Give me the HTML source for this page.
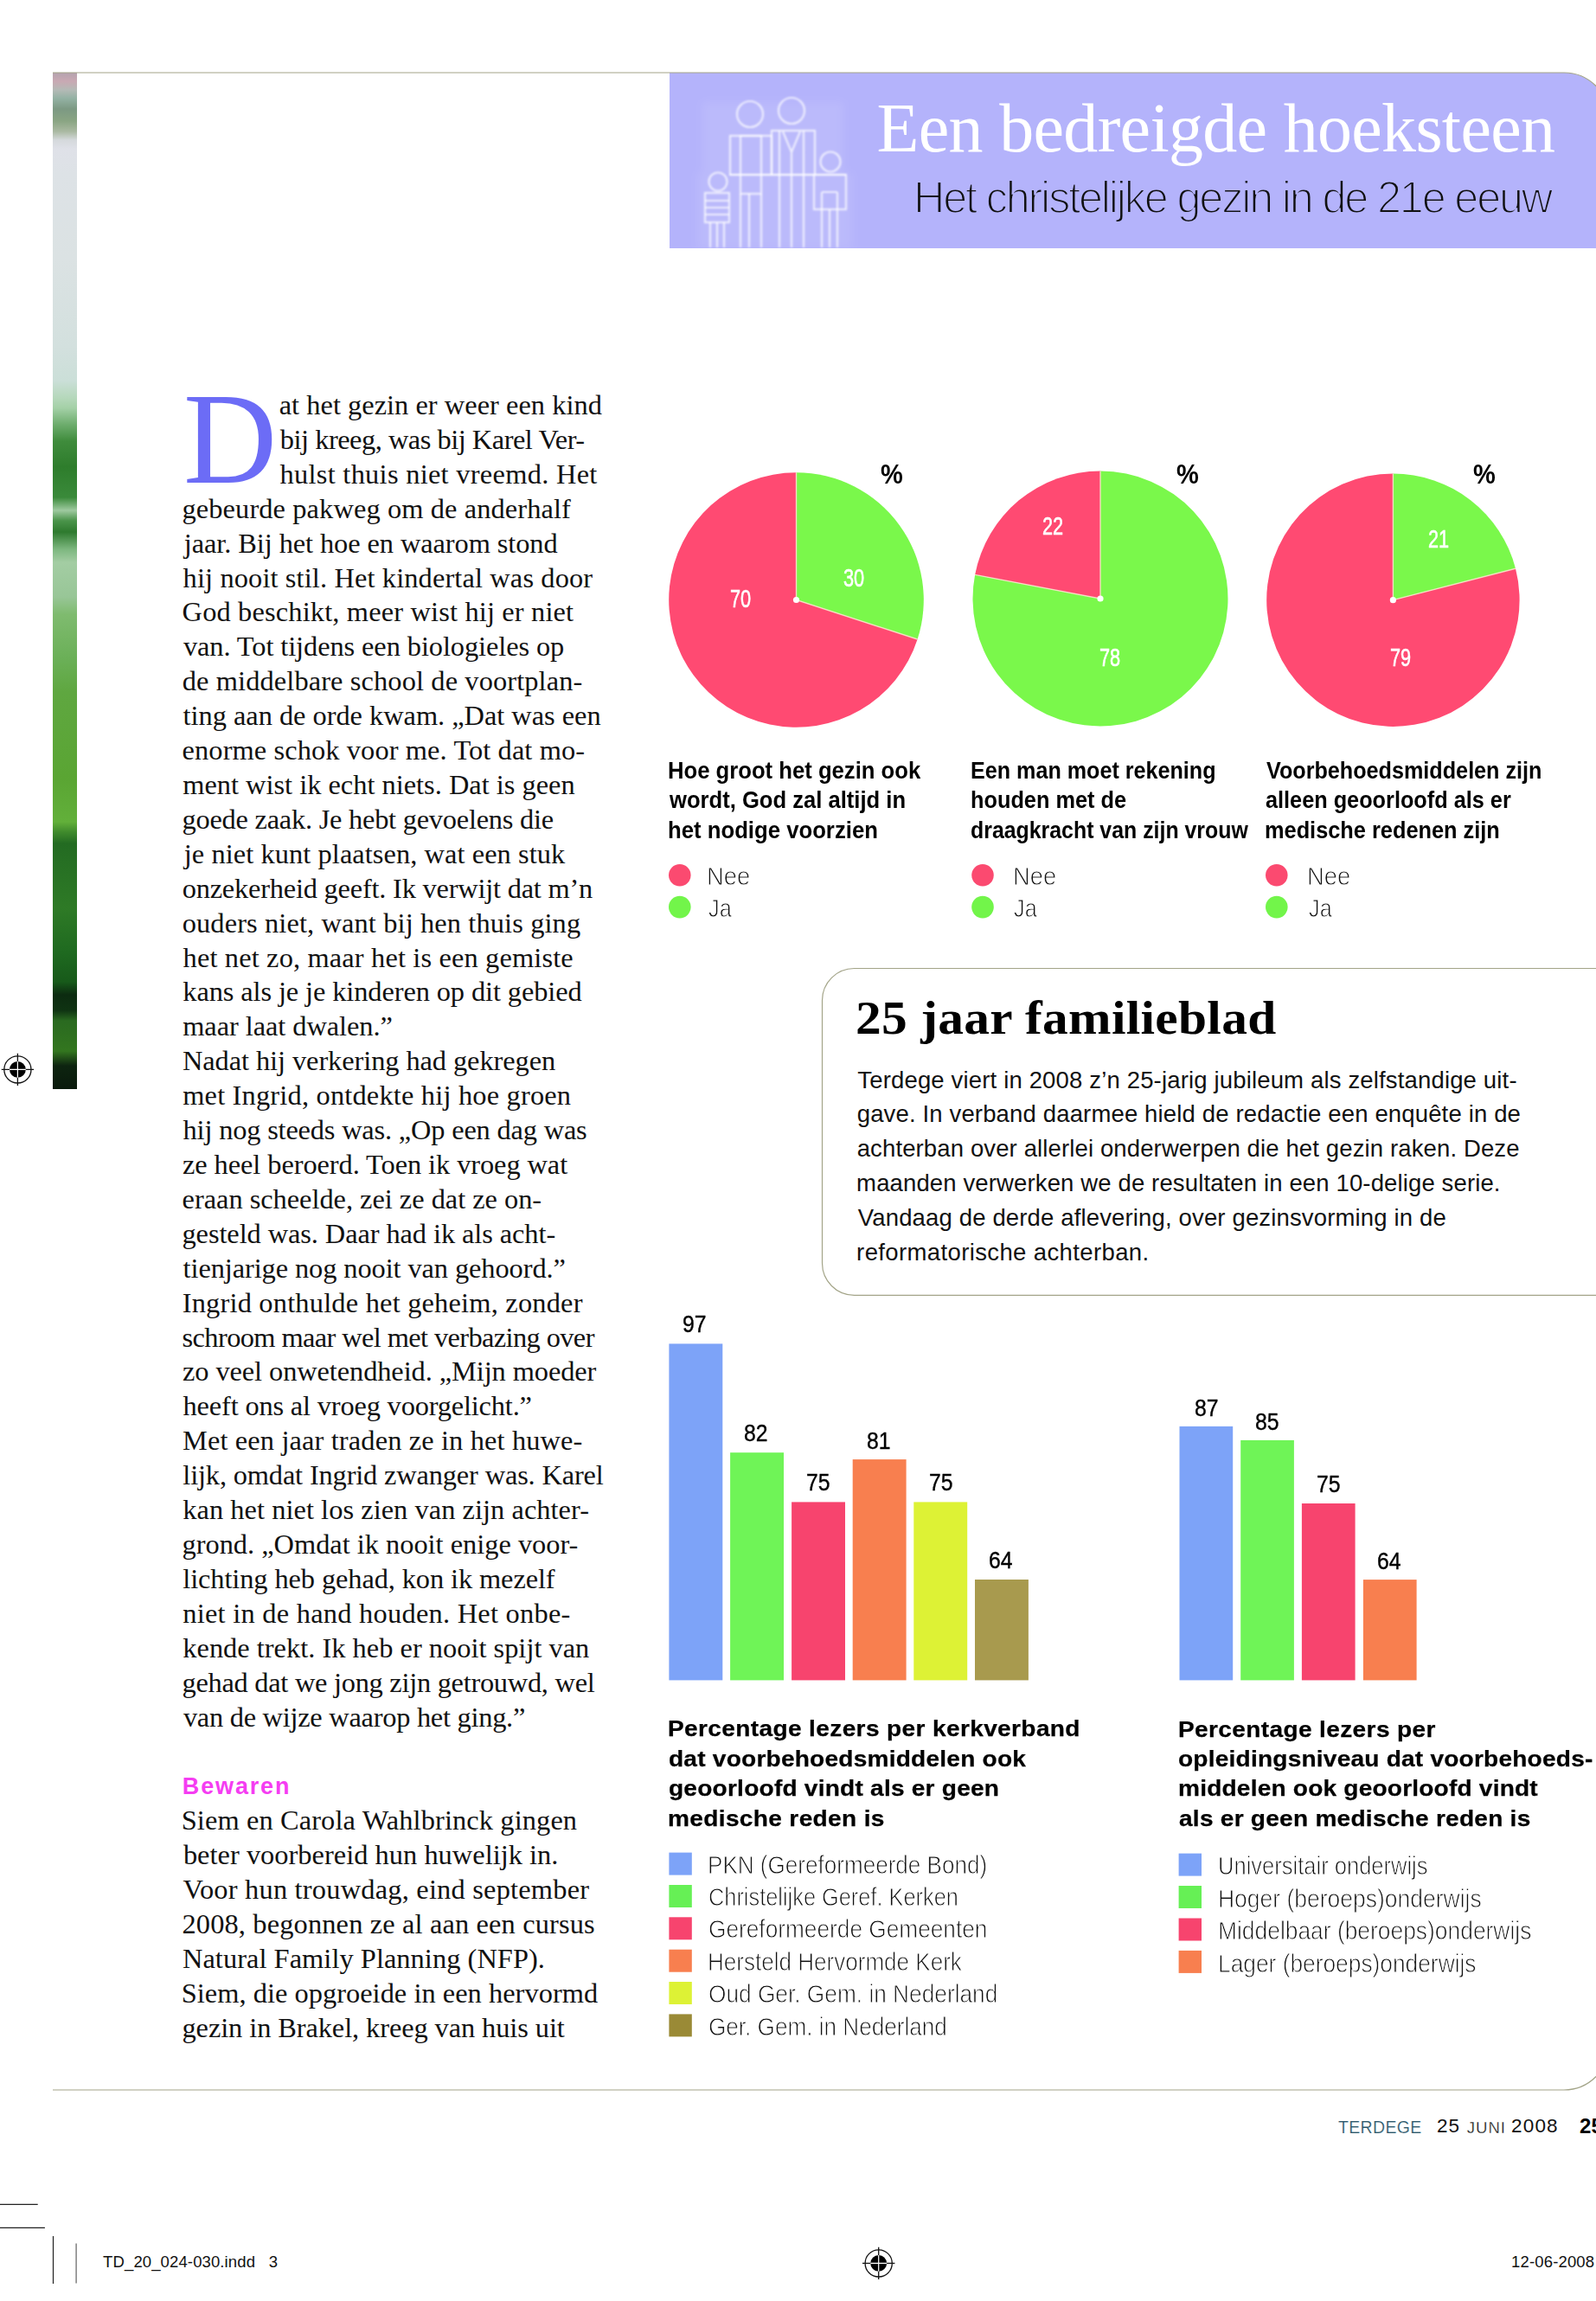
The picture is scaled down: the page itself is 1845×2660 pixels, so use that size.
<!DOCTYPE html>
<html lang="nl">
<head>
<meta charset="utf-8">
<title>Een bedreigde hoeksteen – Het christelijke gezin in de 21e eeuw</title>
<style>
html,body{margin:0;padding:0;background:#fff;}
body{width:1845px;height:2660px;position:relative;overflow:hidden;font-family:"Liberation Serif",serif;}
.t{position:absolute;white-space:nowrap;transform-origin:0 0;margin:0;padding:0;}
.sf{font-family:"Liberation Serif",serif;}
.ss{font-family:"Liberation Sans",sans-serif;}
.abs{position:absolute;}
#strip{left:61px;top:84px;width:28px;height:1175px;background:linear-gradient(to bottom,#b5a3ae 0px,#c9a9b3 10px,#b4bab6 20px,#93b1a3 30px,#7c9983 42px,#8aa583 56px,#aab9a2 68px,#d5d9dc 78px,#dfe1e8 88px,#dde2e6 116px,#dbe2e3 216px,#d3e0de 316px,#cbdfd8 356px,#b5d8bb 376px,#a3d0a6 388px,#6fae6f 406px,#3f8c3c 426px,#2e7d2c 456px,#3a8a3a 491px,#9fcaa0 506px,#4a944a 518px,#2e7a2e 531px,#7db77f 551px,#a3cda3 566px,#98c697 606px,#7fbb6f 626px,#6bb058 676px,#5fa740 716px,#5aa533 816px,#62b03a 866px,#3f8a2c 878px,#236b22 891px,#2e7a26 966px,#1f6a20 1016px,#175a1a 1051px,#0c2b10 1066px,#0f3312 1084px,#2a6a20 1096px,#33761f 1131px,#0d2410 1148px,#0a1a0c 1175px);}
</style>
</head>
<body>
<!-- left photo sliver -->
<div class="abs" id="strip"></div>

<!-- graphics -->
<svg class="abs" style="left:0;top:0" width="1845" height="2660" viewBox="0 0 1845 2660">
<path d="M774 84 H1808 A52 52 0 0 1 1860 136 V287 H774 Z" fill="#b4b3fb"/>
<path d="M61 84 H1808 A52 52 0 0 1 1860 136 V2364 A52 52 0 0 1 1808 2416 H61" fill="none" stroke="#a3a488" stroke-width="1.2"/>
<defs><filter id="bl" x="-5%" y="-5%" width="110%" height="110%"><feGaussianBlur stdDeviation="1"/></filter><filter id="bl2"><feGaussianBlur stdDeviation="5"/></filter></defs>
<path d="M812 118H975V200H985V287H806V200H812Z" fill="#fff" fill-opacity=".09" filter="url(#bl2)"/>
<g fill="none" stroke="#ffffff" stroke-opacity=".75" stroke-width="2.2" filter="url(#bl)"><circle cx="867" cy="132" r="15"/><circle cx="915" cy="128" r="15"/><circle cx="960" cy="187" r="11.5"/><circle cx="830" cy="210" r="10.5"/><rect x="844" y="157" width="48" height="45"/><rect x="856" y="157" width="24" height="67"/><path d="M856 224V286M866 224V286M880 224V286"/><rect x="892" y="151" width="50" height="51"/><path d="M901 151V286M915 175V286M929 151V286M905 152l10 24 10-24"/><path d="M843 202H978"/><rect x="941" y="202" width="37" height="40"/><path d="M950 222V286M959 242V286M968 222V286M950 222H968"/><rect x="815" y="223" width="28" height="34"/><path d="M821 257V286M829 257V286M837 257V286M815 240H843M815 232H843M815 248H843"/></g>
<path d="M920.5 693.5 L1060.6 739.0 A147.3 147.3 0 1 1 920.5 546.2 Z" fill="#ff4a72"/><path d="M920.5 693.5 V546.2 A147.3 147.3 0 0 1 1060.6 739.0 Z" fill="#7af84b"/><path d="M920.5 546.2 V693.5 L1060.6 739.0" fill="none" stroke="#ffe2cf" stroke-opacity=".85" stroke-width="1.4"/><circle cx="920.5" cy="693.5" r="3.6" fill="#fff"/>
<path d="M1272 692 L1127.1 664.4 A147.5 147.5 0 0 1 1272 544.5 Z" fill="#ff4a72"/><path d="M1272 692 V544.5 A147.5 147.5 0 1 1 1127.1 664.4 Z" fill="#7af84b"/><path d="M1272 544.5 V692 L1127.1 664.4" fill="none" stroke="#ffe2cf" stroke-opacity=".85" stroke-width="1.4"/><circle cx="1272" cy="692" r="3.6" fill="#fff"/>
<path d="M1610.4 693.7 L1752.0 657.3 A146.2 146.2 0 1 1 1610.4 547.5 Z" fill="#ff4a72"/><path d="M1610.4 693.7 V547.5 A146.2 146.2 0 0 1 1752.0 657.3 Z" fill="#7af84b"/><path d="M1610.4 547.5 V693.7 L1752.0 657.3" fill="none" stroke="#ffe2cf" stroke-opacity=".85" stroke-width="1.4"/><circle cx="1610.4" cy="693.7" r="3.6" fill="#fff"/>
<circle cx="785.8" cy="1011.7" r="12.8" fill="#fb4a70"/><circle cx="785.8" cy="1048.6" r="12.8" fill="#72f54a"/>
<circle cx="1136" cy="1011.7" r="12.8" fill="#fb4a70"/><circle cx="1136" cy="1048.6" r="12.8" fill="#72f54a"/>
<circle cx="1475.8" cy="1011.7" r="12.8" fill="#fb4a70"/><circle cx="1475.8" cy="1048.6" r="12.8" fill="#72f54a"/>
<path d="M1860 1119.5 H987.5 A37 37 0 0 0 950.5 1156.5 V1460.3 A37 37 0 0 0 987.5 1497.3 H1860" fill="#fff" stroke="#a3a488" stroke-width="1.2"/>
<rect x="773.4" y="1553.4" width="61.9" height="389.0" fill="#7da3f8"/>
<rect x="844.1" y="1679.2" width="61.9" height="263.2" fill="#6ff457"/>
<rect x="915.1" y="1736.4" width="61.9" height="206.0" fill="#f7446e"/>
<rect x="985.7" y="1687.1" width="61.9" height="255.3" fill="#f87f4f"/>
<rect x="1056.3" y="1736.4" width="61.9" height="206.0" fill="#ddf235"/>
<rect x="1127" y="1826" width="61.9" height="116.4" fill="#a89a4e"/>
<rect x="1363.5" y="1648.9" width="61.7" height="293.5" fill="#7da3f8"/>
<rect x="1434.2" y="1664.9" width="61.7" height="277.5" fill="#6ff457"/>
<rect x="1504.9" y="1738" width="61.7" height="204.4" fill="#f7446e"/>
<rect x="1575.9" y="1826.1" width="61.7" height="116.3" fill="#f87f4f"/>
<rect x="773.4" y="2141.6" width="26.4" height="26" fill="#7da3f8"/>
<rect x="773.4" y="2179.0" width="26.4" height="26" fill="#66f055"/>
<rect x="773.4" y="2216.3" width="26.4" height="26" fill="#f7446e"/>
<rect x="773.4" y="2253.7" width="26.4" height="26" fill="#f87f4f"/>
<rect x="773.4" y="2291.0" width="26.4" height="26" fill="#ddf235"/>
<rect x="773.4" y="2328.4" width="26.4" height="26" fill="#9a8a36"/>
<rect x="1362.6" y="2142.6" width="26.4" height="26" fill="#7da3f8"/>
<rect x="1362.6" y="2180.0" width="26.4" height="26" fill="#66f055"/>
<rect x="1362.6" y="2217.5" width="26.4" height="26" fill="#f7446e"/>
<rect x="1362.6" y="2254.9" width="26.4" height="26" fill="#f87f4f"/>
<g stroke="#111" stroke-width="1.3" fill="none"><circle cx="20.4" cy="1236.4" r="15.6"/><circle cx="20.4" cy="1236.4" r="9.4" fill="#000" stroke="none"/><path d="M1.6999999999999993 1236.4H39.099999999999994M20.4 1217.7V1255.1000000000001"/><path d="M10.999999999999998 1236.4H29.799999999999997M20.4 1227.0V1245.8000000000002" stroke="#fff" stroke-width="1.2"/></g>
<g stroke="#111" stroke-width="1.3" fill="none"><circle cx="1015.7" cy="2616.4" r="15.6"/><circle cx="1015.7" cy="2616.4" r="9.4" fill="#000" stroke="none"/><path d="M997.0 2616.4H1034.4M1015.7 2597.7000000000003V2635.1"/><path d="M1006.3000000000001 2616.4H1025.1000000000001M1015.7 2607.0V2625.8" stroke="#fff" stroke-width="1.2"/></g>
<path d="M0 2548.4H43.7M0 2575.3H51.9M61.5 2585V2640" stroke="#222" stroke-width="1.2" fill="none"/>
<path d="M88.1 2593.4V2639.5" stroke="#777" stroke-width="1.4" fill="none"/>
</svg>

<div class="t sf" style="left:1013.6px;top:98.2px;font-size:80px;line-height:100px;color:#fff;letter-spacing:-0.692px;">Een bedreigde hoeksteen</div>
<div class="t ss" style="left:1055.8px;top:194.5px;font-size:52.5px;line-height:66px;color:#111;letter-spacing:-2.281px;transform:scaleX(0.96);-webkit-text-stroke:2px #b4b3fb;">Het christelijke gezin in de 21e eeuw</div>
<div class="t sf" style="left:212.3px;top:413.3px;font-size:150px;line-height:188px;color:#6c6cf6;transform:scaleX(0.9990);">D</div>
<div class="t sf" style="left:322.7px;top:448.0px;font-size:32.4px;line-height:40px;color:#111;letter-spacing:0.030px;">at het gezin er weer een kind</div>
<div class="t sf" style="left:323.8px;top:487.9px;font-size:32.4px;line-height:40px;color:#111;letter-spacing:-0.480px;">bij kreeg, was bij Karel Ver-</div>
<div class="t sf" style="left:323.5px;top:527.8px;font-size:32.4px;line-height:40px;color:#111;letter-spacing:0.291px;">hulst thuis niet vreemd. Het</div>
<div class="t sf" style="left:210.5px;top:567.7px;font-size:32.4px;line-height:40px;color:#111;letter-spacing:0.111px;">gebeurde pakweg om de anderhalf</div>
<div class="t sf" style="left:212.8px;top:607.6px;font-size:32.4px;line-height:40px;color:#111;letter-spacing:-0.081px;">jaar. Bij het hoe en waarom stond</div>
<div class="t sf" style="left:211.6px;top:647.5px;font-size:32.4px;line-height:40px;color:#111;letter-spacing:0.130px;">hij nooit stil. Het kindertal was door</div>
<div class="t sf" style="left:210.6px;top:687.4px;font-size:32.4px;line-height:40px;color:#111;letter-spacing:0.160px;">God beschikt, meer wist hij er niet</div>
<div class="t sf" style="left:211.9px;top:727.3px;font-size:32.4px;line-height:40px;color:#111;letter-spacing:-0.087px;">van. Tot tijdens een biologieles op</div>
<div class="t sf" style="left:210.7px;top:767.2px;font-size:32.4px;line-height:40px;color:#111;letter-spacing:0.119px;">de middelbare school de voortplan-</div>
<div class="t sf" style="left:211.6px;top:807.2px;font-size:32.4px;line-height:40px;color:#111;letter-spacing:-0.025px;">ting aan de orde kwam. „Dat was een</div>
<div class="t sf" style="left:210.6px;top:847.1px;font-size:32.4px;line-height:40px;color:#111;letter-spacing:0.102px;">enorme schok voor me. Tot dat mo-</div>
<div class="t sf" style="left:211.2px;top:887.0px;font-size:32.4px;line-height:40px;color:#111;letter-spacing:0.003px;">ment wist ik echt niets. Dat is geen</div>
<div class="t sf" style="left:210.5px;top:926.9px;font-size:32.4px;line-height:40px;color:#111;letter-spacing:-0.233px;">goede zaak. Je hebt gevoelens die</div>
<div class="t sf" style="left:212.8px;top:966.8px;font-size:32.4px;line-height:40px;color:#111;letter-spacing:0.071px;">je niet kunt plaatsen, wat een stuk</div>
<div class="t sf" style="left:210.7px;top:1006.7px;font-size:32.4px;line-height:40px;color:#111;letter-spacing:-0.207px;">onzekerheid geeft. Ik verwijt dat m’n</div>
<div class="t sf" style="left:210.7px;top:1046.6px;font-size:32.4px;line-height:40px;color:#111;letter-spacing:0.124px;">ouders niet, want bij hen thuis ging</div>
<div class="t sf" style="left:211.6px;top:1086.5px;font-size:32.4px;line-height:40px;color:#111;letter-spacing:0.148px;">het net zo, maar het is een gemiste</div>
<div class="t sf" style="left:211.3px;top:1126.4px;font-size:32.4px;line-height:40px;color:#111;letter-spacing:-0.103px;">kans als je je kinderen op dit gebied</div>
<div class="t sf" style="left:211.2px;top:1166.3px;font-size:32.4px;line-height:40px;color:#111;letter-spacing:-0.062px;">maar laat dwalen.”</div>
<div class="t sf" style="left:211.0px;top:1206.3px;font-size:32.4px;line-height:40px;color:#111;letter-spacing:-0.076px;">Nadat hij verkering had gekregen</div>
<div class="t sf" style="left:211.2px;top:1246.2px;font-size:32.4px;line-height:40px;color:#111;letter-spacing:0.191px;">met Ingrid, ontdekte hij hoe groen</div>
<div class="t sf" style="left:211.6px;top:1286.1px;font-size:32.4px;line-height:40px;color:#111;letter-spacing:-0.178px;">hij nog steeds was. „Op een dag was</div>
<div class="t sf" style="left:211.0px;top:1326.0px;font-size:32.4px;line-height:40px;color:#111;letter-spacing:-0.077px;">ze heel beroerd. Toen ik vroeg wat</div>
<div class="t sf" style="left:210.6px;top:1365.9px;font-size:32.4px;line-height:40px;color:#111;letter-spacing:-0.024px;">eraan scheelde, zei ze dat ze on-</div>
<div class="t sf" style="left:210.5px;top:1405.8px;font-size:32.4px;line-height:40px;color:#111;letter-spacing:-0.083px;">gesteld was. Daar had ik als acht-</div>
<div class="t sf" style="left:211.6px;top:1445.7px;font-size:32.4px;line-height:40px;color:#111;letter-spacing:-0.090px;">tienjarige nog nooit van gehoord.”</div>
<div class="t sf" style="left:210.7px;top:1485.6px;font-size:32.4px;line-height:40px;color:#111;letter-spacing:0.204px;">Ingrid onthulde het geheim, zonder</div>
<div class="t sf" style="left:210.6px;top:1525.5px;font-size:32.4px;line-height:40px;color:#111;letter-spacing:-0.604px;">schroom maar wel met verbazing over</div>
<div class="t sf" style="left:211.0px;top:1565.4px;font-size:32.4px;line-height:40px;color:#111;letter-spacing:-0.086px;">zo veel onwetendheid. „Mijn moeder</div>
<div class="t sf" style="left:211.6px;top:1605.4px;font-size:32.4px;line-height:40px;color:#111;letter-spacing:-0.170px;">heeft ons al vroeg voorgelicht.”</div>
<div class="t sf" style="left:211.0px;top:1645.3px;font-size:32.4px;line-height:40px;color:#111;letter-spacing:0.137px;">Met een jaar traden ze in het huwe-</div>
<div class="t sf" style="left:211.3px;top:1685.2px;font-size:32.4px;line-height:40px;color:#111;letter-spacing:-0.153px;">lijk, omdat Ingrid zwanger was. Karel</div>
<div class="t sf" style="left:211.3px;top:1725.1px;font-size:32.4px;line-height:40px;color:#111;letter-spacing:0.048px;">kan het niet los zien van zijn achter-</div>
<div class="t sf" style="left:210.5px;top:1765.0px;font-size:32.4px;line-height:40px;color:#111;letter-spacing:-0.008px;">grond. „Omdat ik nooit enige voor-</div>
<div class="t sf" style="left:211.3px;top:1804.9px;font-size:32.4px;line-height:40px;color:#111;letter-spacing:-0.100px;">lichting heb gehad, kon ik mezelf</div>
<div class="t sf" style="left:211.2px;top:1844.8px;font-size:32.4px;line-height:40px;color:#111;letter-spacing:0.261px;">niet in de hand houden. Het onbe-</div>
<div class="t sf" style="left:211.3px;top:1884.7px;font-size:32.4px;line-height:40px;color:#111;letter-spacing:0.013px;">kende trekt. Ik heb er nooit spijt van</div>
<div class="t sf" style="left:210.5px;top:1924.6px;font-size:32.4px;line-height:40px;color:#111;letter-spacing:-0.268px;">gehad dat we jong zijn getrouwd, wel</div>
<div class="t sf" style="left:211.9px;top:1964.5px;font-size:32.4px;line-height:40px;color:#111;letter-spacing:-0.258px;">van de wijze waarop het ging.”</div>
<div class="t ss" style="left:210.8px;top:2047.9px;font-size:27px;line-height:34px;font-weight:700;color:#f53df2;letter-spacing:1.855px;">Bewaren</div>
<div class="t sf" style="left:209.7px;top:2084.3px;font-size:32.4px;line-height:40px;color:#111;letter-spacing:0.117px;">Siem en Carola Wahlbrinck gingen</div>
<div class="t sf" style="left:211.9px;top:2124.2px;font-size:32.4px;line-height:40px;color:#111;letter-spacing:0.028px;">beter voorbereid hun huwelijk in.</div>
<div class="t sf" style="left:211.5px;top:2164.1px;font-size:32.4px;line-height:40px;color:#111;letter-spacing:0.215px;">Voor hun trouwdag, eind september</div>
<div class="t sf" style="left:210.5px;top:2204.0px;font-size:32.4px;line-height:40px;color:#111;letter-spacing:0.148px;">2008, begonnen ze al aan een cursus</div>
<div class="t sf" style="left:211.0px;top:2243.9px;font-size:32.4px;line-height:40px;color:#111;letter-spacing:0.049px;">Natural Family Planning (NFP).</div>
<div class="t sf" style="left:209.7px;top:2283.8px;font-size:32.4px;line-height:40px;color:#111;letter-spacing:0.033px;">Siem, die opgroeide in een hervormd</div>
<div class="t sf" style="left:210.5px;top:2323.7px;font-size:32.4px;line-height:40px;color:#111;letter-spacing:-0.087px;">gezin in Brakel, kreeg van huis uit</div>
<div class="t ss" style="left:1018.1px;top:529.1px;font-size:31.5px;line-height:39px;font-weight:700;color:#000;transform:scaleX(0.9207);">%</div>
<div class="t ss" style="left:1359.8px;top:529.1px;font-size:31.5px;line-height:39px;font-weight:700;color:#000;transform:scaleX(0.9207);">%</div>
<div class="t ss" style="left:1702.5px;top:529.1px;font-size:31.5px;line-height:39px;font-weight:700;color:#000;transform:scaleX(0.9207);">%</div>
<div class="t ss" style="left:843.6px;top:673.5px;font-size:29px;line-height:36px;color:#fff;transform:scaleX(0.75);-webkit-text-stroke:.6px #fff;">70</div>
<div class="t ss" style="left:974.9px;top:650.4px;font-size:29px;line-height:36px;color:#fff;transform:scaleX(0.75);-webkit-text-stroke:.6px #fff;">30</div>
<div class="t ss" style="left:1204.6px;top:589.9px;font-size:29px;line-height:36px;color:#fff;transform:scaleX(0.75);-webkit-text-stroke:.6px #fff;">22</div>
<div class="t ss" style="left:1270.8px;top:741.7px;font-size:29px;line-height:36px;color:#fff;transform:scaleX(0.75);-webkit-text-stroke:.6px #fff;">78</div>
<div class="t ss" style="left:1651.4px;top:604.9px;font-size:29px;line-height:36px;color:#fff;transform:scaleX(0.75);-webkit-text-stroke:.6px #fff;">21</div>
<div class="t ss" style="left:1606.9px;top:741.7px;font-size:29px;line-height:36px;color:#fff;transform:scaleX(0.75);-webkit-text-stroke:.6px #fff;">79</div>
<div class="t ss" style="left:772.1px;top:873.6px;font-size:27px;line-height:34px;font-weight:700;color:#000;transform:scaleX(0.9502);">Hoe groot het gezin ook</div>
<div class="t ss" style="left:773.9px;top:908.1px;font-size:27px;line-height:34px;font-weight:700;color:#000;transform:scaleX(0.9480);">wordt, God zal altijd in</div>
<div class="t ss" style="left:772.0px;top:942.5px;font-size:27px;line-height:34px;font-weight:700;color:#000;transform:scaleX(0.9525);">het nodige voorzien</div>
<div class="t ss" style="left:1121.6px;top:873.6px;font-size:27px;line-height:34px;font-weight:700;color:#000;transform:scaleX(0.9310);">Een man moet rekening</div>
<div class="t ss" style="left:1121.5px;top:908.1px;font-size:27px;line-height:34px;font-weight:700;color:#000;transform:scaleX(0.9376);">houden met de</div>
<div class="t ss" style="left:1122.3px;top:942.5px;font-size:27px;line-height:34px;font-weight:700;color:#000;transform:scaleX(0.9215);">draagkracht van zijn vrouw</div>
<div class="t ss" style="left:1463.8px;top:873.6px;font-size:27px;line-height:34px;font-weight:700;color:#000;transform:scaleX(0.9324);">Voorbehoedsmiddelen zijn</div>
<div class="t ss" style="left:1463.3px;top:908.1px;font-size:27px;line-height:34px;font-weight:700;color:#000;transform:scaleX(0.9361);">alleen geoorloofd als er</div>
<div class="t ss" style="left:1462.3px;top:942.5px;font-size:27px;line-height:34px;font-weight:700;color:#000;transform:scaleX(0.9387);">medische redenen zijn</div>
<div class="t ss" style="left:816.8px;top:994.0px;font-size:30px;line-height:38px;color:#111;transform:scaleX(0.9098);-webkit-text-stroke:0.9px #fff;">Nee</div>
<div class="t ss" style="left:818.6px;top:1030.8px;font-size:30px;line-height:38px;color:#111;transform:scaleX(0.8444);-webkit-text-stroke:0.9px #fff;">Ja</div>
<div class="t ss" style="left:1170.6px;top:994.0px;font-size:30px;line-height:38px;color:#111;transform:scaleX(0.9098);-webkit-text-stroke:0.9px #fff;">Nee</div>
<div class="t ss" style="left:1172.4px;top:1030.8px;font-size:30px;line-height:38px;color:#111;transform:scaleX(0.8444);-webkit-text-stroke:0.9px #fff;">Ja</div>
<div class="t ss" style="left:1510.9px;top:994.0px;font-size:30px;line-height:38px;color:#111;transform:scaleX(0.9098);-webkit-text-stroke:0.9px #fff;">Nee</div>
<div class="t ss" style="left:1512.7px;top:1030.8px;font-size:30px;line-height:38px;color:#111;transform:scaleX(0.8444);-webkit-text-stroke:0.9px #fff;">Ja</div>
<div class="t sf" style="left:989.4px;top:1141.5px;font-size:55px;line-height:69px;font-weight:700;color:#000;letter-spacing:0.283px;transform:scaleX(1.08);">25 jaar familieblad</div>
<div class="t ss" style="left:991.3px;top:1231.5px;font-size:27.5px;line-height:34px;color:#111;letter-spacing:0.159px;">Terdege viert in 2008 z’n 25-jarig jubileum als zelfstandige uit-</div>
<div class="t ss" style="left:990.7px;top:1271.4px;font-size:27.5px;line-height:34px;color:#111;letter-spacing:0.150px;">gave. In verband daarmee hield de redactie een enquête in de</div>
<div class="t ss" style="left:990.7px;top:1311.3px;font-size:27.5px;line-height:34px;color:#111;letter-spacing:0.126px;">achterban over allerlei onderwerpen die het gezin raken. Deze</div>
<div class="t ss" style="left:990.1px;top:1351.2px;font-size:27.5px;line-height:34px;color:#111;letter-spacing:0.133px;">maanden verwerken we de resultaten in een 10-delige serie.</div>
<div class="t ss" style="left:991.8px;top:1391.1px;font-size:27.5px;line-height:34px;color:#111;letter-spacing:0.150px;">Vandaag de derde aflevering, over gezinsvorming in de</div>
<div class="t ss" style="left:990.1px;top:1431.0px;font-size:27.5px;line-height:34px;color:#111;letter-spacing:0.376px;">reformatorische achterban.</div>
<div class="t ss" style="left:789.0px;top:1514.3px;font-size:27.5px;line-height:34px;color:#000;transform:scaleX(0.9);-webkit-text-stroke:.4px #000;">97</div>
<div class="t ss" style="left:860.3px;top:1640.1px;font-size:27.5px;line-height:34px;color:#000;transform:scaleX(0.9);-webkit-text-stroke:.4px #000;">82</div>
<div class="t ss" style="left:931.8px;top:1697.3px;font-size:27.5px;line-height:34px;color:#000;transform:scaleX(0.9);-webkit-text-stroke:.4px #000;">75</div>
<div class="t ss" style="left:1002.0px;top:1648.7px;font-size:27.5px;line-height:34px;color:#000;transform:scaleX(0.9);-webkit-text-stroke:.4px #000;">81</div>
<div class="t ss" style="left:1073.8px;top:1697.3px;font-size:27.5px;line-height:34px;color:#000;transform:scaleX(0.9);-webkit-text-stroke:.4px #000;">75</div>
<div class="t ss" style="left:1143.0px;top:1786.9px;font-size:27.5px;line-height:34px;color:#000;transform:scaleX(0.9);-webkit-text-stroke:.4px #000;">64</div>
<div class="t ss" style="left:1380.6px;top:1610.6px;font-size:27.5px;line-height:34px;color:#000;transform:scaleX(0.9);-webkit-text-stroke:.4px #000;">87</div>
<div class="t ss" style="left:1450.8px;top:1626.6px;font-size:27.5px;line-height:34px;color:#000;transform:scaleX(0.9);-webkit-text-stroke:.4px #000;">85</div>
<div class="t ss" style="left:1522.4px;top:1699.4px;font-size:27.5px;line-height:34px;color:#000;transform:scaleX(0.9);-webkit-text-stroke:.4px #000;">75</div>
<div class="t ss" style="left:1592.0px;top:1787.5px;font-size:27.5px;line-height:34px;color:#000;transform:scaleX(0.9);-webkit-text-stroke:.4px #000;">64</div>
<div class="t ss" style="left:772.2px;top:1982.3px;font-size:26.5px;line-height:33px;font-weight:700;color:#000;letter-spacing:0.331px;transform:scaleX(1.06);-webkit-text-stroke:.25px #000;">Percentage lezers per kerkverband</div>
<div class="t ss" style="left:772.9px;top:2016.7px;font-size:26.5px;line-height:33px;font-weight:700;color:#000;letter-spacing:0.202px;transform:scaleX(1.06);-webkit-text-stroke:.25px #000;">dat voorbehoedsmiddelen ook</div>
<div class="t ss" style="left:772.9px;top:2051.1px;font-size:26.5px;line-height:33px;font-weight:700;color:#000;letter-spacing:0.204px;transform:scaleX(1.06);-webkit-text-stroke:.25px #000;">geoorloofd vindt als er geen</div>
<div class="t ss" style="left:772.2px;top:2085.5px;font-size:26.5px;line-height:33px;font-weight:700;color:#000;letter-spacing:0.312px;transform:scaleX(1.06);-webkit-text-stroke:.25px #000;">medische reden is</div>
<div class="t ss" style="left:1361.6px;top:1982.5px;font-size:26.5px;line-height:33px;font-weight:700;color:#000;letter-spacing:0.330px;transform:scaleX(1.06);-webkit-text-stroke:.25px #000;">Percentage lezers per</div>
<div class="t ss" style="left:1362.4px;top:2016.9px;font-size:26.5px;line-height:33px;font-weight:700;color:#000;letter-spacing:0.189px;transform:scaleX(1.06);-webkit-text-stroke:.25px #000;">opleidingsniveau dat voorbehoeds-</div>
<div class="t ss" style="left:1361.6px;top:2051.3px;font-size:26.5px;line-height:33px;font-weight:700;color:#000;letter-spacing:0.178px;transform:scaleX(1.06);-webkit-text-stroke:.25px #000;">middelen ook geoorloofd vindt</div>
<div class="t ss" style="left:1362.7px;top:2085.7px;font-size:26.5px;line-height:33px;font-weight:700;color:#000;letter-spacing:0.222px;transform:scaleX(1.06);-webkit-text-stroke:.25px #000;">als er geen medische reden is</div>
<div class="t ss" style="left:818.3px;top:2136.7px;font-size:30px;line-height:38px;color:#111;transform:scaleX(0.8691);-webkit-text-stroke:0.9px #fff;">PKN (Gereformeerde Bond)</div>
<div class="t ss" style="left:819.1px;top:2174.1px;font-size:30px;line-height:38px;color:#111;transform:scaleX(0.8452);-webkit-text-stroke:0.9px #fff;">Christelijke Geref. Kerken</div>
<div class="t ss" style="left:819.1px;top:2211.4px;font-size:30px;line-height:38px;color:#111;transform:scaleX(0.8749);-webkit-text-stroke:0.9px #fff;">Gereformeerde Gemeenten</div>
<div class="t ss" style="left:818.3px;top:2248.8px;font-size:30px;line-height:38px;color:#111;transform:scaleX(0.8683);-webkit-text-stroke:0.9px #fff;">Hersteld Hervormde Kerk</div>
<div class="t ss" style="left:819.2px;top:2286.1px;font-size:30px;line-height:38px;color:#111;transform:scaleX(0.8755);-webkit-text-stroke:0.9px #fff;">Oud Ger. Gem. in Nederland</div>
<div class="t ss" style="left:819.1px;top:2323.5px;font-size:30px;line-height:38px;color:#111;transform:scaleX(0.8708);-webkit-text-stroke:0.9px #fff;">Ger. Gem. in Nederland</div>
<div class="t ss" style="left:1407.7px;top:2138.3px;font-size:30px;line-height:38px;color:#111;transform:scaleX(0.8508);-webkit-text-stroke:0.9px #fff;">Universitair onderwijs</div>
<div class="t ss" style="left:1407.5px;top:2175.7px;font-size:30px;line-height:38px;color:#111;transform:scaleX(0.8826);-webkit-text-stroke:0.9px #fff;">Hoger (beroeps)onderwijs</div>
<div class="t ss" style="left:1407.5px;top:2213.1px;font-size:30px;line-height:38px;color:#111;transform:scaleX(0.8797);-webkit-text-stroke:0.9px #fff;">Middelbaar (beroeps)onderwijs</div>
<div class="t ss" style="left:1407.5px;top:2250.5px;font-size:30px;line-height:38px;color:#111;transform:scaleX(0.8775);-webkit-text-stroke:0.9px #fff;">Lager (beroeps)onderwijs</div>
<div class="t ss" style="left:1547.1px;top:2447.2px;font-size:19.5px;line-height:24px;color:#2a5669;letter-spacing:0.302px;-webkit-text-stroke:0.2px #fff;">TERDEGE</div>
<div class="t ss" style="left:1660.9px;top:2444.2px;font-size:22.5px;line-height:28px;color:#111;letter-spacing:1.050px;">25</div>
<div class="t ss" style="left:1695.7px;top:2448.1px;font-size:18.6px;line-height:23px;color:#111;letter-spacing:0.996px;-webkit-text-stroke:0.3px #fff;">JUNI</div>
<div class="t ss" style="left:1747.1px;top:2444.2px;font-size:22.5px;line-height:28px;color:#111;letter-spacing:1.152px;">2008</div>
<div class="t ss" style="left:1826.1px;top:2442.7px;font-size:24px;line-height:30px;font-weight:700;color:#000;">25</div>
<div class="t ss" style="left:119.1px;top:2602.8px;font-size:18.5px;line-height:23px;color:#111;letter-spacing:0.119px;white-space:pre;">TD_20_024-030.indd   3</div>
<div class="t ss" style="left:1747.0px;top:2602.8px;font-size:18.5px;line-height:23px;color:#111;letter-spacing:0.165px;">12-06-2008</div>
</body>
</html>
